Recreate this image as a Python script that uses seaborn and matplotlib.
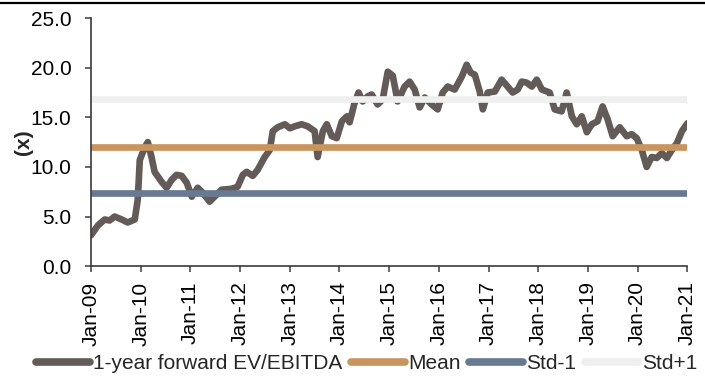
import matplotlib
matplotlib.use("Agg")
import matplotlib.pyplot as plt
import matplotlib.dates as mdates
from matplotlib.lines import Line2D
import seaborn as sns
import pandas as pd

# 1-year forward EV/EBITDA multiple over time
dates = [
    "2009-01-01", "2009-02-21", "2009-04-12", "2009-05-18", "2009-06-24", "2009-08-15",
    "2009-09-28", "2009-11-19", "2009-12-11", "2009-12-26", "2010-02-01", "2010-02-23",
    "2010-03-22", "2010-04-14", "2010-06-04", "2010-07-11", "2010-08-17", "2010-09-23",
    "2010-10-30", "2010-12-06", "2011-01-12", "2011-02-25", "2011-04-02", "2011-05-23",
    "2011-07-13", "2011-08-19", "2011-11-02", "2011-12-15", "2012-01-22", "2012-02-20",
    "2012-04-04", "2012-05-10", "2012-07-01", "2012-08-07", "2012-08-29", "2012-10-05",
    "2012-11-26", "2013-01-02", "2013-02-08", "2013-03-29", "2013-05-12", "2013-07-03",
    "2013-07-25", "2013-09-01", "2013-09-30", "2013-11-06", "2013-12-12", "2014-01-19",
    "2014-02-25", "2014-03-17", "2014-04-23", "2014-05-22", "2014-06-21", "2014-07-27",
    "2014-08-26", "2014-10-09", "2014-11-15", "2014-12-22", "2015-01-28", "2015-03-05",
    "2015-04-25", "2015-06-01", "2015-07-08", "2015-08-14", "2015-09-20", "2015-11-10",
    "2015-12-24", "2016-01-30", "2016-03-07", "2016-04-27", "2016-06-18", "2016-07-24",
    "2016-08-23", "2016-09-22", "2016-10-28", "2016-11-20", "2016-12-26", "2017-02-16",
    "2017-04-07", "2017-05-21", "2017-06-27", "2017-08-03", "2017-09-02", "2017-10-08",
    "2017-11-15", "2017-12-21", "2018-01-28", "2018-03-26", "2018-05-02", "2018-06-22",
    "2018-07-29", "2018-09-05", "2018-10-11", "2018-11-17", "2018-12-24", "2019-01-30",
    "2019-03-13", "2019-04-19", "2019-05-26", "2019-07-02", "2019-08-23", "2019-10-13",
    "2019-11-19", "2019-12-26", "2020-02-01", "2020-03-08", "2020-04-14", "2020-05-21",
    "2020-06-27", "2020-08-03", "2020-09-09", "2020-10-16", "2020-11-22", "2021-01-01",
]
ev_ebitda = [
    3.1, 4.1, 4.7, 4.6, 5.0, 4.7,
    4.4, 4.7, 6.7, 10.7, 12.0, 12.5,
    11.0, 9.5, 8.5, 7.9, 8.7, 9.2,
    9.1, 8.4, 7.0, 7.9, 7.4, 6.5,
    7.2, 7.7, 7.8, 8.0, 9.2, 9.5,
    9.1, 9.7, 11.0, 11.7, 13.6, 14.0,
    14.3, 13.9, 14.1, 14.3, 14.1, 13.6,
    11.0, 13.6, 14.3, 13.1, 12.9, 14.6,
    15.1, 14.5, 16.5, 17.5, 16.6, 17.1,
    17.3, 16.3, 16.8, 19.6, 19.2, 16.6,
    18.1, 18.6, 17.8, 16.0, 17.0, 16.3,
    15.8, 17.5, 18.1, 17.8, 19.1, 20.3,
    19.5, 19.3, 17.6, 15.8, 17.5, 17.6,
    18.8, 18.1, 17.5, 17.8, 18.6, 18.5,
    18.1, 18.8, 17.8, 17.5, 15.8, 15.6,
    17.5, 15.1, 14.3, 15.1, 13.5, 14.3,
    14.6, 16.1, 14.8, 13.1, 14.0, 13.1,
    13.3, 12.9, 11.7, 10.0, 11.0, 10.9,
    11.4, 10.9, 11.7, 12.4, 13.6, 14.4,
]

# Reference bands across the full period
band_dates = ["2009-01-01", "2021-01-01"]
mean_value = 12.05
std_minus_1 = 7.35
std_plus_1 = 16.8

series_names = ["1-year forward EV/EBITDA", "Mean", "Std-1", "Std+1"]
series_colors = ["#635b57", "#c9955f", "#687992", "#efefef"]

frames = [pd.DataFrame({"date": pd.to_datetime(dates), "value": ev_ebitda,
                        "series": series_names[0]})]
for name, level in zip(series_names[1:], [mean_value, std_minus_1, std_plus_1]):
    frames.append(pd.DataFrame({"date": pd.to_datetime(band_dates),
                                "value": [level, level], "series": name}))
data = pd.concat(frames, ignore_index=True)

sns.set_theme(style="ticks")
plt.rcParams["font.family"] = ["Liberation Sans", "DejaVu Sans"]
FS = 15

fig = plt.figure(figsize=(7.05, 3.78), dpi=100)
ax = fig.add_axes([0.129, 0.296, 0.846, 0.656])

sns.lineplot(data=data, x="date", y="value", hue="series",
             hue_order=series_names, palette=series_colors,
             linewidth=4.8, ax=ax, sort=False, estimator=None)
for line in ax.get_lines():
    line.set_solid_capstyle("round")
    line.set_solid_joinstyle("round")

ax.set_xlim(pd.Timestamp("2009-01-01"), pd.Timestamp("2021-01-01"))
ax.set_ylim(0, 25)
ax.set_yticks([0, 5, 10, 15, 20, 25])
ax.yaxis.set_major_formatter(matplotlib.ticker.FormatStrFormatter("%.1f"))
ax.xaxis.set_major_locator(mdates.YearLocator())
ax.xaxis.set_major_formatter(mdates.DateFormatter("%b-%y"))

for side in ["top", "right"]:
    ax.spines[side].set_visible(False)
for side in ["left", "bottom"]:
    ax.spines[side].set_color("#3a3a3a")
    ax.spines[side].set_linewidth(1.2)

ax.tick_params(axis="x", labelrotation=90, labelsize=FS, length=4,
               width=1.1, color="#3a3a3a", pad=7, labelcolor="black")
ax.tick_params(axis="y", labelsize=FS, length=4, width=1.1,
               color="#3a3a3a", pad=10, labelcolor="black")

ax.set_xlabel("")
ax.set_ylabel("(x)", fontsize=FS, fontweight="bold")
ax.yaxis.set_label_coords(-0.097, 0.5)

handles, labels = ax.get_legend_handles_labels()
ax.get_legend().remove()
for h in handles:
    h.set_linewidth(5.5)
    h.set_solid_capstyle("round")
fig.legend(handles, labels, loc="center", bbox_to_anchor=(0.52, 0.038),
           ncol=4, frameon=False, fontsize=FS, handlelength=2.6,
           handletextpad=0.15, columnspacing=0.4, borderaxespad=0)

# Rule across the top of the figure
fig.add_artist(Line2D([0, 1], [0.991, 0.991], transform=fig.transFigure,
                      color="black", linewidth=1.6))

fig.savefig("out.png", dpi=100)
